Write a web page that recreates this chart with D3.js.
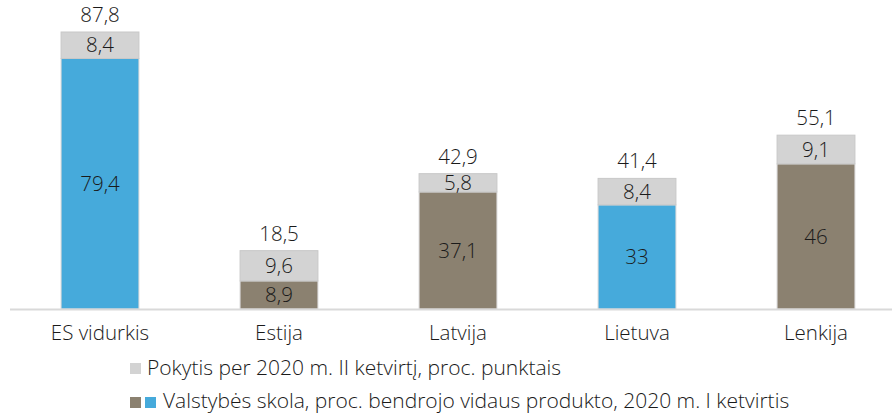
<!DOCTYPE html>
<html><head><meta charset="utf-8">
<script src="https://cdn.jsdelivr.net/npm/d3@7"></script>
<style>body{margin:0;background:#fff}svg{display:block}text{font-family:"Open Sans","Noto Sans",sans-serif;font-weight:300;fill:#1a1a1a}</style>
</head><body><svg id="c" width="892" height="413"></svg>
<script>
const categories = ["ES vidurkis","Estija","Latvija","Lietuva","Lenkija"];
const debt = [79.4, 8.9, 37.1, 33, 46];
const change = [8.4, 9.6, 5.8, 8.4, 9.1];
const totals = ["87,8","18,5","42,9","41,4","55,1"];
const debtColorKey = ["blue","brown","brown","blue","brown"];
const legendLabels = ["Pokytis per 2020 m. II ketvirtį, proc. punktais","Valstybės skola, proc. bendrojo vidaus produkto, 2020 m. I ketvirtis"];

const colors = {blue:"#46aadb", brown:"#8b8170", gray:"#d3d3d3"};
const fmt = v => String(v).replace(".", ",");

const svg = d3.select("#c");
const x = d3.scaleBand().domain(categories).range([10.5, 905.5]).paddingInner(0.565).paddingOuter(0.2825);
const y = d3.scaleLinear().domain([0, 87.8]).range([309, 32]);

const data = categories.map((c,i)=>({c, debt:debt[i], change:change[i], total:totals[i], key:debtColorKey[i]}));

const g = svg.append("g");
g.selectAll("rect.debt").data(data).join("rect")
  .attr("x", d=>x(d.c)).attr("width", x.bandwidth())
  .attr("y", d=>y(d.debt)).attr("height", d=>y(0)-y(d.debt))
  .attr("fill", d=>colors[d.key]).attr("stroke","#d9d9d9").attr("stroke-width",1);
g.selectAll("rect.chg").data(data).join("rect")
  .attr("x", d=>x(d.c)).attr("width", x.bandwidth())
  .attr("y", d=>y(d.debt+d.change)).attr("height", d=>y(d.debt)-y(d.debt+d.change))
  .attr("fill", colors.gray).attr("stroke","#c8c8c8").attr("stroke-width",1);

svg.append("line").attr("x1",10).attr("x2",892).attr("y1",y(0)+0.5).attr("y2",y(0)+0.5)
  .attr("stroke","#d9d9d9").attr("stroke-width",2);

const lbl = g.append("g").attr("text-anchor","middle").style("font-size","20.5px");
lbl.selectAll("text.d").data(data).join("text")
  .attr("x", d=>x(d.c)+x.bandwidth()/2).attr("y", d=>(y(0)+y(d.debt))/2).attr("dy","0.35em").text(d=>fmt(d.debt));
lbl.selectAll("text.ch").data(data).join("text")
  .attr("x", d=>x(d.c)+x.bandwidth()/2).attr("y", d=>(y(d.debt)+y(d.debt+d.change))/2).attr("dy","0.35em").text(d=>fmt(d.change));
lbl.selectAll("text.t").data(data).join("text")
  .attr("x", d=>x(d.c)+x.bandwidth()/2).attr("y", d=>y(d.debt+d.change)-10).text(d=>d.total);

const ax = svg.append("g").attr("transform",`translate(0,${y(0)})`)
  .call(d3.axisBottom(x).tickSize(0).tickPadding(16));
ax.select(".domain").remove();
ax.selectAll("text").style("font-size","20.5px").attr("font-family",null).attr("fill","#1a1a1a");

const lg = svg.append("g").style("font-size","21px");
lg.append("rect").attr("x",130).attr("y",363).attr("width",11).attr("height",11).attr("fill",colors.gray);
lg.append("text").attr("x",147).attr("y",368).attr("dy","0.35em").text(legendLabels[0]);
lg.append("rect").attr("x",130).attr("y",397).attr("width",11).attr("height",11).attr("fill",colors.brown);
lg.append("rect").attr("x",145).attr("y",397).attr("width",11).attr("height",11).attr("fill",colors.blue);
lg.append("text").attr("x",163).attr("y",401).attr("dy","0.35em").text(legendLabels[1]);
</script></body></html>
